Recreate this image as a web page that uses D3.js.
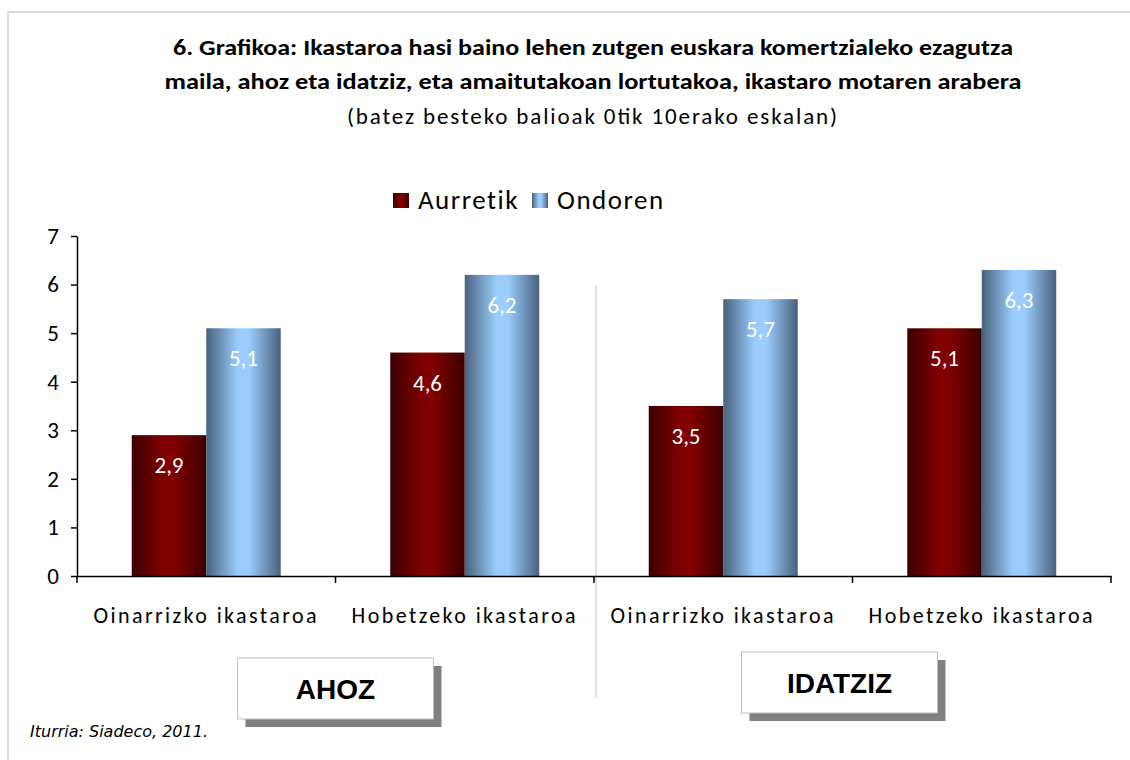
<!DOCTYPE html>
<html>
<head>
<meta charset="utf-8">
<script src="https://cdn.jsdelivr.net/npm/d3@7"></script>
<style>
  body { margin: 0; background: #fff; }
  svg text { font-family: Carlito, "Open Sans", "Noto Sans", sans-serif; }
</style>
</head>
<body>
<div id="chart"></div>
<script>
////////////////////////////////////////////////////////////////
// Data

let categories = ["Oinarrizko ikastaroa", "Hobetzeko ikastaroa", "Oinarrizko ikastaroa ", "Hobetzeko ikastaroa "]
let series = ["Aurretik", "Ondoren"]
let aurretik = [2.9, 4.6, 3.5, 5.1]
let ondoren = [5.1, 6.2, 5.7, 6.3]
let groups = ["AHOZ", "IDATZIZ"]
let yTicks = [0, 1, 2, 3, 4, 5, 6, 7]
let titleLines = [
  "6. Grafikoa: Ikastaroa hasi baino lehen zutgen euskara komertzialeko ezagutza",
  "maila, ahoz eta idatziz,  eta amaitutakoan lortutakoa, ikastaro motaren arabera"
]
let subtitle = "(batez besteko balioak 0tik 10erako eskalan)"
let source = "Iturria: Siadeco, 2011."

////////////////////////////////////////////////////////////////
// Setup

let width = 1130, height = 760
let svg = d3.select("#chart").append("svg")
  .attr("width", width)
  .attr("height", height)

// gradients for the cylinder look
let defs = svg.append("defs")
function addGradient(id, edge, mid) {
  let g = defs.append("linearGradient").attr("id", id)
    .attr("x1", "0%").attr("x2", "100%").attr("y1", "0%").attr("y2", "0%")
  g.append("stop").attr("offset", "0%").attr("stop-color", edge)
  g.append("stop").attr("offset", "42%").attr("stop-color", mid)
  g.append("stop").attr("offset", "58%").attr("stop-color", mid)
  g.append("stop").attr("offset", "100%").attr("stop-color", edge)
}
addGradient("gRed", "#3a0000", "#800000")
addGradient("gBlue", "#48617d", "#9accfc")
let fills = {"Aurretik": "url(#gRed)", "Ondoren": "url(#gBlue)"}

// outer frame
svg.append("path")
  .attr("d", "M8,760 L8,12 L1130,12")
  .attr("fill", "none")
  .attr("stroke", "#d9d9d9")
  .attr("stroke-width", 2)

////////////////////////////////////////////////////////////////
// Title

let titleWidths = [840, 857]
svg.selectAll(".title")
  .data(titleLines)
  .enter()
  .append("text")
  .attr("class", "title")
  .attr("x", 593)
  .attr("y", (d, i) => 55 + i * 34)
  .attr("text-anchor", "middle")
  .attr("font-size", 23)
  .attr("font-weight", "bold")
  .attr("textLength", (d, i) => titleWidths[i])
  .attr("lengthAdjust", "spacingAndGlyphs")
  .text(d => d)

svg.append("text")
  .attr("x", 592)
  .attr("y", 124)
  .attr("text-anchor", "middle")
  .attr("font-size", 23)
  .attr("textLength", 490)
  .attr("lengthAdjust", "spacing")
  .text(subtitle)

////////////////////////////////////////////////////////////////
// Scales

let x0 = d3.scaleBand().domain(categories).range([77, 1111])
let x1 = d3.scaleBand().domain(series).range([0, x0.bandwidth()]).paddingOuter(0.735)
let y = d3.scaleLinear().domain([0, 7]).range([576, 236])

// separator between AHOZ and IDATZIZ
svg.append("line")
  .attr("x1", x0(categories[2]) + 2).attr("x2", x0(categories[2]) + 2)
  .attr("y1", 285).attr("y2", 698)
  .attr("stroke", "#d9d9d9")
  .attr("stroke-width", 1.5)

////////////////////////////////////////////////////////////////
// Bars

let rows = categories.map((c, i) => ({cat: c, vals: [
  {s: "Aurretik", v: aurretik[i]}, {s: "Ondoren", v: ondoren[i]}
]}))

let grp = svg.selectAll(".grp")
  .data(rows)
  .enter()
  .append("g")
  .attr("transform", d => "translate(" + x0(d.cat) + ",0)")

grp.selectAll("rect")
  .data(d => d.vals)
  .enter()
  .append("rect")
  .attr("x", d => x1(d.s))
  .attr("y", d => y(d.v))
  .attr("width", x1.bandwidth())
  .attr("height", d => y(0) - y(d.v))
  .attr("fill", d => fills[d.s])

grp.selectAll(".lbl")
  .data(d => d.vals)
  .enter()
  .append("text")
  .attr("class", "lbl")
  .attr("x", d => x1(d.s) + x1.bandwidth() / 2)
  .attr("y", d => y(d.v) + 38)
  .attr("text-anchor", "middle")
  .attr("font-size", 23)
  .attr("fill", "white")
  .text(d => d3.format(".1f")(d.v).replace(".", ","))

////////////////////////////////////////////////////////////////
// Axes

let yAxis = svg.append("g")
  .attr("transform", "translate(77,0)")
  .call(d3.axisLeft(y).tickValues(yTicks).tickFormat(d3.format("d"))
    .tickSize(6).tickSizeOuter(0).tickPadding(12))
yAxis.selectAll("text").attr("font-size", 23).attr("fill", "#000")
yAxis.selectAll("line").attr("stroke", "#000").attr("stroke-width", 1.5)
yAxis.select(".domain").attr("stroke", "#000").attr("stroke-width", 1.5)

let xAxis = svg.append("g")
  .attr("transform", "translate(0," + y(0) + ")")
  .call(d3.axisBottom(x0).tickSize(0).tickSizeOuter(0).tickPadding(31))
xAxis.selectAll("text").attr("font-size", 22).attr("fill", "#000")
  .attr("letter-spacing", 2.4)
xAxis.select(".domain").attr("stroke", "#000").attr("stroke-width", 1.5)

// category boundary ticks
let bounds = categories.map(c => x0(c)).concat([x0.range()[1]])
xAxis.selectAll(".btick")
  .data(bounds)
  .enter()
  .append("line")
  .attr("class", "btick")
  .attr("x1", d => d).attr("x2", d => d)
  .attr("y1", 0).attr("y2", 7)
  .attr("stroke", "#000")
  .attr("stroke-width", 1.5)

////////////////////////////////////////////////////////////////
// Legend

let legend = svg.append("g").attr("transform", "translate(393,193)")
let legX = [0, 139]
series.forEach((s, i) => {
  legend.append("rect")
    .attr("x", legX[i]).attr("y", 0)
    .attr("width", 16).attr("height", 15)
    .attr("fill", fills[s])
  legend.append("text")
    .attr("x", legX[i] + 25).attr("y", 16)
    .attr("font-size", 27)
    .attr("letter-spacing", 1.5)
    .text(s)
})

////////////////////////////////////////////////////////////////
// Group boxes

let groupCenter = [
  (x0(categories[0]) + x0(categories[1]) + x0.bandwidth()) / 2,
  (x0(categories[2]) + x0(categories[3]) + x0.bandwidth()) / 2 - 13
]
let boxTop = [658, 652]

groups.forEach((g, i) => {
  let bx = groupCenter[i] - 98
  svg.append("rect")
    .attr("x", bx + 8).attr("y", boxTop[i] + 8)
    .attr("width", 196).attr("height", 61)
    .attr("fill", "#808080")
  svg.append("rect")
    .attr("x", bx).attr("y", boxTop[i])
    .attr("width", 196).attr("height", 61)
    .attr("fill", "#fff")
    .attr("stroke", "#bfbfbf")
  svg.append("text")
    .attr("x", groupCenter[i]).attr("y", boxTop[i] + 41)
    .attr("text-anchor", "middle")
    .attr("font-size", 28)
    .attr("font-weight", "bold")
    .style("font-family", "'Liberation Sans', Arial, sans-serif")
    .text(g)
})

////////////////////////////////////////////////////////////////
// Source

svg.append("text")
  .attr("x", 30).attr("y", 737)
  .attr("font-size", 16)
  .attr("font-style", "italic")
  .style("font-family", "'DejaVu Sans', sans-serif")
  .text(source)
</script>
</body>
</html>
